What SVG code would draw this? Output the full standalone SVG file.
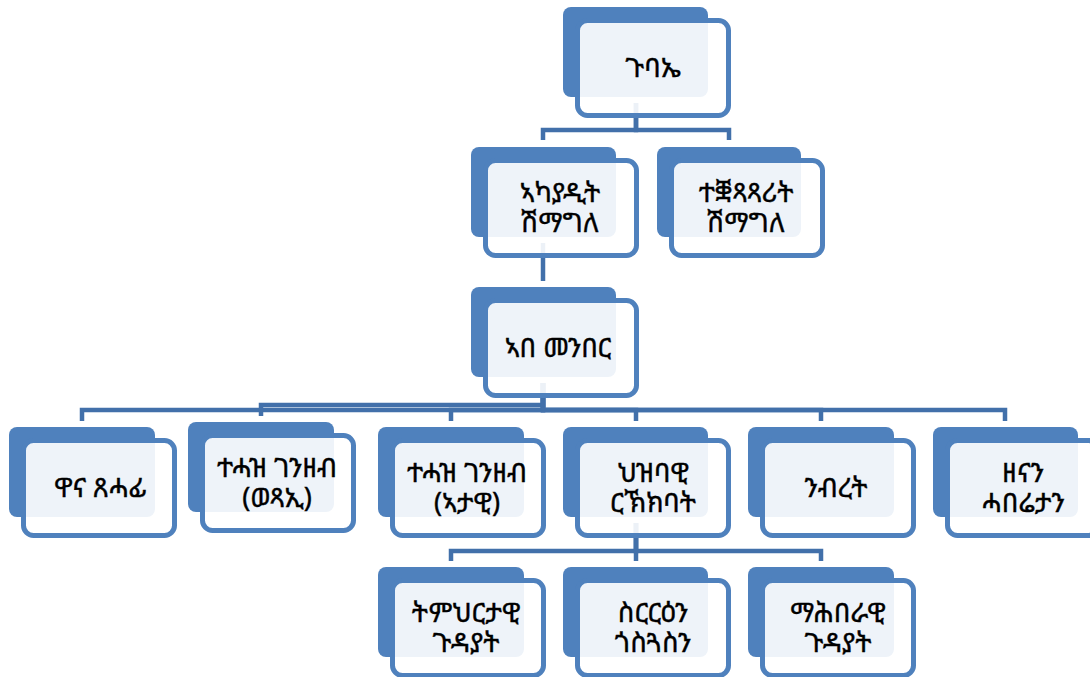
<svg xmlns="http://www.w3.org/2000/svg" width="1090" height="677" viewBox="0 0 1090 677">
<style>
.back{fill:#4F81BD;}
.front{fill:#FFFFFF;fill-opacity:0.9;stroke:#4F81BD;stroke-width:5;}
.conn{fill:none;stroke:#4270AA;stroke-width:4.5;}
.t{font-family:"Noto Sans Ethiopic","Noto Sans","DejaVu Sans",sans-serif;font-size:27px;fill:#000;stroke:#000;stroke-width:0.4;text-anchor:middle;}
</style>
<rect width="1090" height="677" fill="#FFFFFF"/>
<g id="connectors">
<path class="conn" d="M636,103 V130 H543 V140"/>
<path class="conn" d="M636,103 V130 H729 V140"/>
<path class="conn" d="M543,243 V281"/>
<path class="conn" d="M543,383 V410 H82 V421"/>
<path class="conn" d="M543,383 V405 H261 V416"/>
<path class="conn" d="M543,383 V410 H451 V421"/>
<path class="conn" d="M543,383 V410 H636 V421"/>
<path class="conn" d="M543,383 V410 H821 V421"/>
<path class="conn" d="M543,383 V410 H1005 V421"/>
<path class="conn" d="M636,523 V551 H451 V561"/>
<path class="conn" d="M636,523 V561"/>
<path class="conn" d="M636,523 V551 H821 V561"/>
</g>
<g id="n-gubae"><rect class="back" x="563" y="7" width="145" height="90" rx="8"/><rect class="front" x="577.5" y="20.5" width="151" height="95" rx="10"/><text class="t" x="653" y="77">ጉባኤ</text></g>
<g id="n-akayadit"><rect class="back" x="471" y="147" width="145" height="90" rx="8"/><rect class="front" x="485.5" y="160.5" width="151" height="95" rx="10"/><text class="t" x="560" y="202">ኣካያዲት</text><text class="t" x="560" y="232">ሽማግለ</text></g>
<g id="n-teqwatsatsarit"><rect class="back" x="657" y="147" width="144" height="90" rx="8"/><rect class="front" x="671.5" y="160.5" width="151" height="95" rx="10"/><text class="t" x="746" y="202">ተቛጻጻሪት</text><text class="t" x="746" y="232">ሽማግለ</text></g>
<g id="n-abmenber"><rect class="back" x="471" y="287" width="145" height="90" rx="8"/><rect class="front" x="485.5" y="300.5" width="151" height="95" rx="10"/><text class="t" x="558" y="357">ኣበ መንበር</text></g>
<g id="n-wana"><rect class="back" x="9" y="427" width="146" height="90" rx="8"/><rect class="front" x="23.5" y="440.5" width="151" height="95" rx="10"/><text class="t" x="100" y="497">ዋና ጸሓፊ</text></g>
<g id="n-wetsai"><rect class="back" x="188" y="422" width="146" height="90" rx="8"/><rect class="front" x="202.5" y="435.5" width="151" height="95" rx="10"/><text class="t" x="277" y="477">ተሓዝ ገንዘብ</text><text class="t" x="277" y="507">(ወጻኢ)</text></g>
<g id="n-atawi"><rect class="back" x="378" y="427" width="146" height="90" rx="8"/><rect class="front" x="392.5" y="440.5" width="151" height="95" rx="10"/><text class="t" x="467" y="482">ተሓዝ ገንዘብ</text><text class="t" x="467" y="512">(ኣታዊ)</text></g>
<g id="n-hizbawi"><rect class="back" x="563" y="427" width="145" height="90" rx="8"/><rect class="front" x="577.5" y="440.5" width="151" height="95" rx="10"/><text class="t" x="653" y="482">ህዝባዊ</text><text class="t" x="653" y="512">ርኽክባት</text></g>
<g id="n-nibret"><rect class="back" x="748" y="427" width="146" height="90" rx="8"/><rect class="front" x="762.5" y="440.5" width="151" height="95" rx="10"/><text class="t" x="836" y="497">ንብረት</text></g>
<g id="n-zenan"><rect class="back" x="933" y="427" width="145" height="90" rx="8"/><rect class="front" x="947.5" y="440.5" width="151" height="95" rx="10"/><text class="t" x="1023" y="482">ዘናን</text><text class="t" x="1023" y="512">ሓበሬታን</text></g>
<g id="n-timhirtawi"><rect class="back" x="378" y="567" width="146" height="90" rx="8"/><rect class="front" x="392.5" y="580.5" width="151" height="95" rx="10"/><text class="t" x="466" y="622">ትምህርታዊ</text><text class="t" x="466" y="652">ጉዳያት</text></g>
<g id="n-sirriin"><rect class="back" x="563" y="567" width="145" height="90" rx="8"/><rect class="front" x="577.5" y="580.5" width="151" height="95" rx="10"/><text class="t" x="653" y="622">ስርርዕን</text><text class="t" x="653" y="652">ጎስጓስን</text></g>
<g id="n-mahberawi"><rect class="back" x="748" y="567" width="146" height="90" rx="8"/><rect class="front" x="762.5" y="580.5" width="151" height="95" rx="10"/><text class="t" x="838" y="622">ማሕበራዊ</text><text class="t" x="838" y="652">ጉዳያት</text></g>
</svg>
